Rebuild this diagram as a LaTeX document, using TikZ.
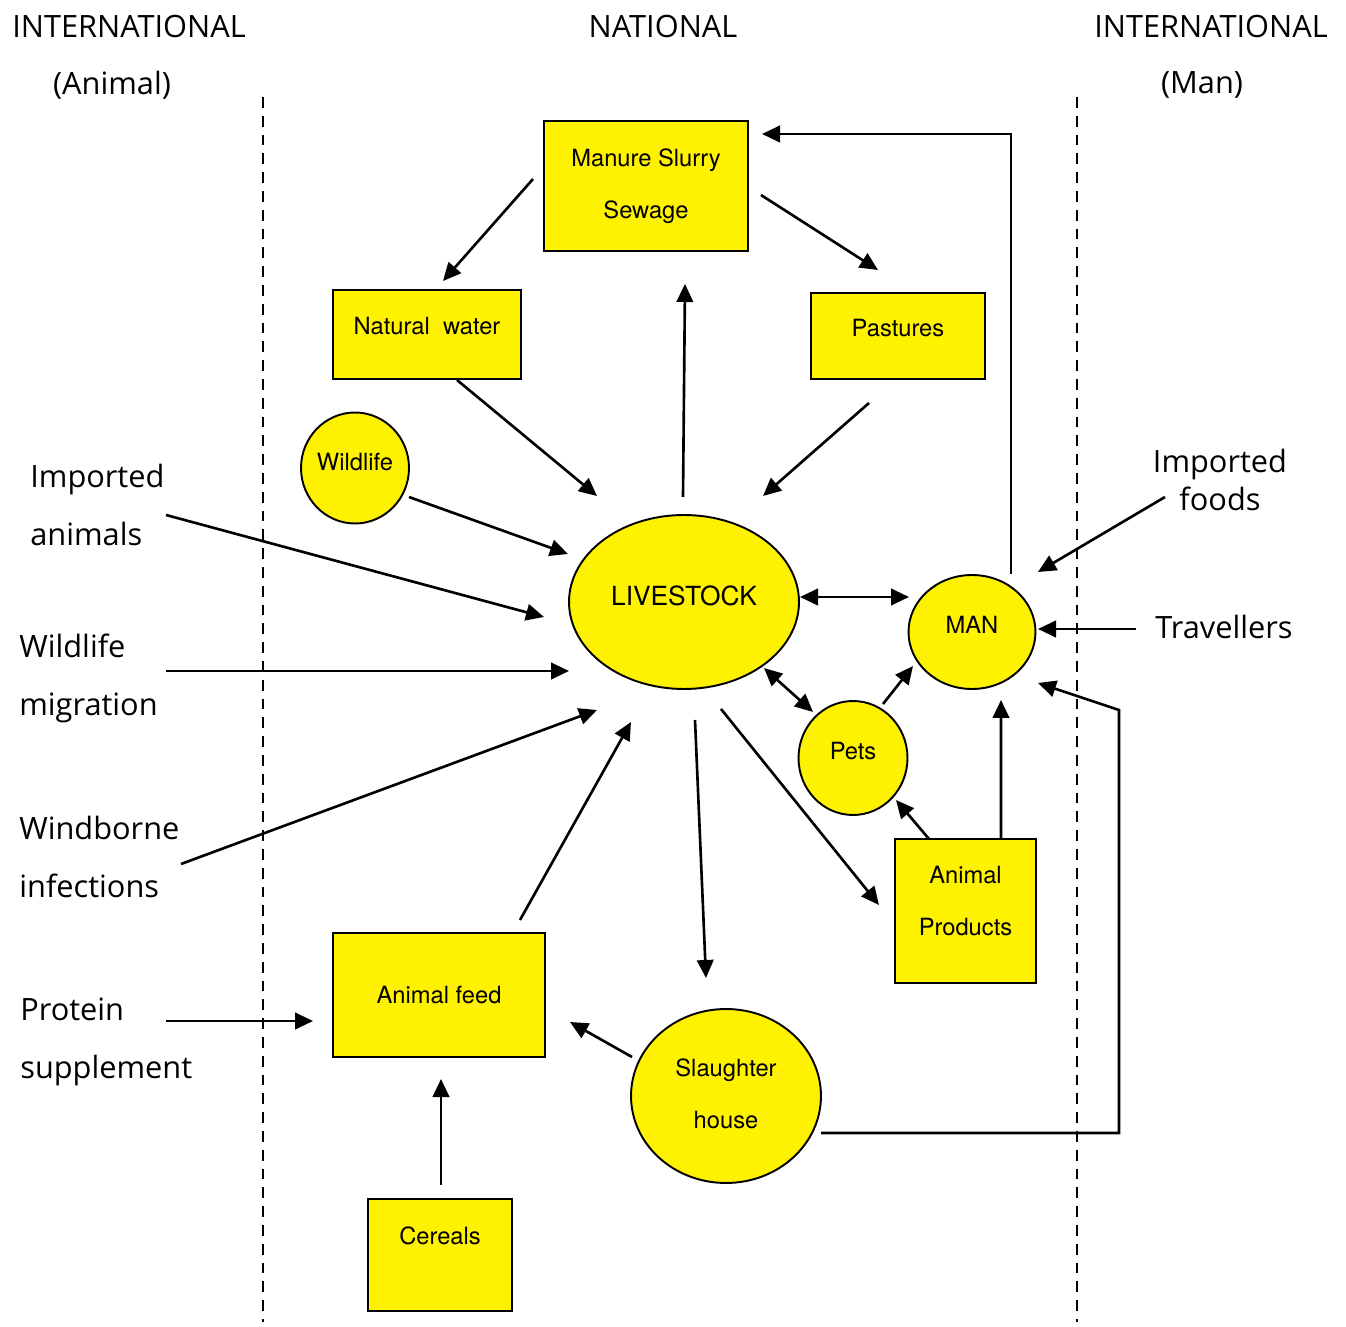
\documentclass[tikz,border=0pt]{standalone}
\usepackage{fontspec}
\setmainfont{TeX Gyre Heros}
\newfontfamily\outerfont{Open Sans}
\usetikzlibrary{arrows.meta,calc,shapes.geometric}
\tikzstyle{box}=[rectangle,fill=yellow,draw=black,line width=1.1pt,inner sep=0pt,align=center,font=\fontsize{13.5}{29.5}\selectfont]
\tikzstyle{blob}=[ellipse,fill=yellow,draw=black,line width=1.1pt,inner sep=0pt,align=center,font=\fontsize{13.5}{29.5}\selectfont]
\tikzstyle{annot}=[inner sep=0pt,align=left,font=\outerfont\fontsize{17.5}{33}\selectfont]
\tikzstyle{flow}=[->,line width=1.5pt]
\tikzstyle{both}=[<->,line width=1.5pt]
\tikzstyle{border}=[line width=1.3pt,dash pattern=on 6.2pt off 4.5pt]

\begin{document}
\begin{tikzpicture}[x=0.02cm,y=-0.02cm,>={Triangle[length=0.36cm,width=0.33cm]}]
	\useasboundingbox (0,0) rectangle (1346,1327);

	% headings and borders
	\node[annot] (intlA) at (129,27) {INTERNATIONAL};
	\node[annot] (animalside) at (112,85) {(Animal)};
	\node[annot] (national) at (663,27) {NATIONAL};
	\node[annot] (intlM) at (1211,27) {INTERNATIONAL};
	\node[annot] (manside) at (1202,85) {(Man)};
	\draw[border] (263,97) -- (263,1322);
	\draw[border] (1077,97) -- (1077,1322);

	% national nodes
	\node[box, minimum width=4.08cm, minimum height=2.6cm](manure) at (646,186){Manure Slurry\\Sewage};
	\node[box, minimum width=3.76cm, minimum height=1.78cm, text depth=10pt](water) at (427,334.5){Natural\ \ water};
	\node[box, minimum width=3.48cm, minimum height=1.72cm, text depth=9pt](pastures) at (898,336){Pastures};
	\node[blob, minimum width=2.16cm, minimum height=2.22cm, text depth=6.8pt](wildlife) at (355,468){Wildlife};
	\node[blob, minimum width=4.6cm, minimum height=3.48cm, text depth=6.8pt, font=\fontsize{15}{18}\selectfont](livestock) at (684,602){LIVESTOCK};
	\node[blob, minimum width=2.54cm, minimum height=2.28cm, text depth=8pt](man) at (972,632){MAN};
	\node[blob, minimum width=2.18cm, minimum height=2.28cm, text depth=8pt](pets) at (853,758){Pets};
	\node[box, minimum width=2.82cm, minimum height=2.88cm, text depth=11.4pt](products) at (965.5,911){Animal\\Products};
	\node[box, minimum width=4.24cm, minimum height=2.48cm](feed) at (439,995){Animal feed};
	\node[blob, minimum width=3.8cm, minimum height=3.48cm, text depth=2.5pt](slaughter) at (726,1096){Slaughter\\house};
	\node[box, minimum width=2.88cm, minimum height=2.24cm, text depth=22pt](cereals) at (440,1255){Cereals};

	% outside sources
	\node[annot, anchor=west] (imported) at (30,505) {Imported\\animals};
	\node[annot, anchor=west] (migration) at (19,678) {Wildlife\\migration};
	\node[annot, anchor=west] (windborne) at (19,857) {Windborne\\infections};
	\node[annot, anchor=west] (protein) at (20,1042) {Protein\\supplement};
	\node[annot, align=center, font=\outerfont\fontsize{17.5}{22}\selectfont] (foods) at (1220,480) {Imported\\foods};
	\node[annot, anchor=west] (travellers) at (1155,627) {Travellers};

	% flows
	\draw[flow] ($(manure.center)+(-113,-7)$) -- ($(water.center)+(16,-53.5)$);
	\draw[flow] ($(manure.center)+(115,9)$) -- ($(pastures.center)+(-20,-66)$);
	\draw[flow] ($(livestock.center)+(-1,-105)$) -- ($(manure.center)+(39,98)$);
	\draw[flow] ($(water.center)+(30,45.5)$) -- ($(livestock.center)+(-87,-106)$);
	\draw[flow] ($(pastures.center)+(-29,67)$) -- ($(livestock.center)+(79,-106)$);
	\draw[flow] ($(wildlife.center)+(54,29)$) -- ($(livestock.center)+(-116,-48)$);
	\draw[flow] ($(imported.west)+(136,10)$) -- ($(livestock.center)+(-140,15)$);
	\draw[flow] ($(migration.west)+(147,-7)$) -- ($(livestock.center)+(-115,69)$);
	\draw[flow] ($(windborne.west)+(162,7)$) -- ($(livestock.center)+(-87,108)$);
	\draw[flow] ($(feed.center)+(81,-75)$) -- ($(livestock.center)+(-53,120)$);
	\draw[flow] ($(livestock.center)+(11,118)$) -- ($(slaughter.center)+(-20,-118)$);
	\draw[flow] ($(livestock.center)+(37,107)$) -- ($(products.center)+(-86.5,-6)$);
	\draw[both] ($(livestock.center)+(116,-5)$) -- ($(man.center)+(-63,-35)$);
	\draw[both] ($(livestock.center)+(80,66)$) -- ($(pets.center)+(-40,-46)$);
	\draw[flow] ($(pets.center)+(30,-54)$) -- ($(man.center)+(-59,34)$);
	\draw[flow] ($(products.center)+(-36.5,-72)$) -- ($(pets.center)+(43,42)$);
	\draw[flow] ($(products.center)+(35.5,-72)$) -- ($(man.center)+(29,68)$);
	\draw[flow] ($(man.center)+(39,-58)$) |- ($(manure.center)+(116,-52)$);
	\draw[flow] ($(foods.center)+(-55,17)$) -- ($(man.center)+(66,-60)$);
	\draw[flow] ($(travellers.west)+(-19,2)$) -- ($(man.center)+(66,-3)$);
	\draw[flow] ($(slaughter.center)+(95,37)$) -- ++(298,0) -- ++(0,-423) -- ($(man.center)+(66,51)$);
	\draw[flow] ($(slaughter.center)+(-94,-39)$) -- ($(feed.center)+(131,27)$);
	\draw[flow] ($(protein.west)+(146,-21)$) -- ($(feed.center)+(-126,26)$);
	\draw[flow] ($(cereals.center)+(1,-70)$) -- ($(feed.center)+(2,84)$);

\end{tikzpicture}
\end{document}
